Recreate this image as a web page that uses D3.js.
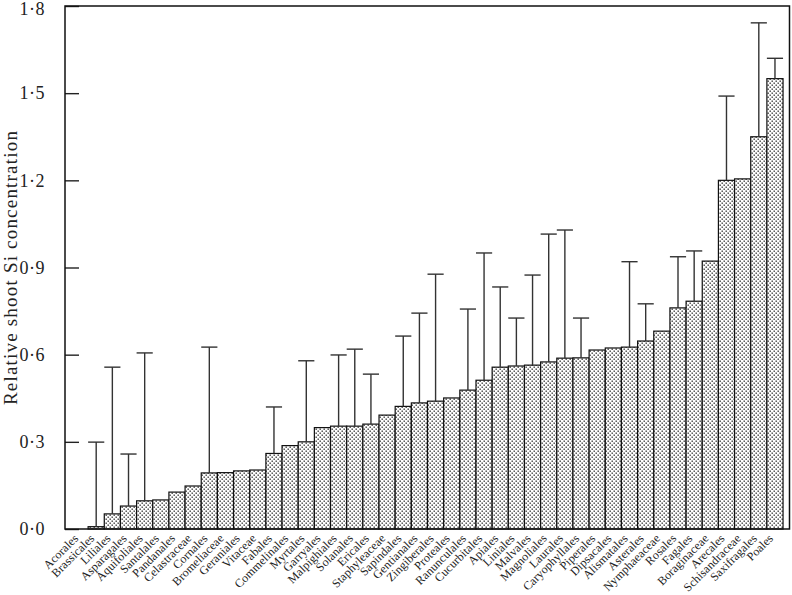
<!DOCTYPE html>
<html>
<head>
<meta charset="utf-8">
<script src="https://cdn.jsdelivr.net/npm/d3@7"></script>
<style>
  body { margin: 0; background: #fff; }
  svg { display: block; }
  text { font-family: "Liberation Serif", "DejaVu Serif", serif; fill: #222; }
</style>
</head>
<body>
<div id="chart"></div>
<script>
// orders, sorted by relative shoot Si
var categories = ["Acorales", "Brassicales", "Liliales", "Asparagales", "Aquifoliales", "Santalales",
  "Pandanales", "Celastraceae", "Cornales", "Bromeliaceae", "Geraniales", "Vitaceae", "Fabales",
  "Commelinales", "Myrtales", "Garryales", "Malpighiales", "Solanales", "Ericales", "Staphyleaceae",
  "Sapindales", "Gentianales", "Zingiberales", "Proteales", "Ranunculales", "Cucurbitales", "Apiales",
  "Liniales", "Malvales", "Magnoliales", "Laurales", "Caryophyllales", "Piperales", "Dipsacales",
  "Alismatales", "Asterales", "Nymphaeaceae", "Rosales", "Fagales", "Boraginaceae", "Arecales",
  "Schisandraceae", "Saxifragales", "Poales"];

var means = [0, 0.008, 0.052, 0.079, 0.097, 0.10,
  0.127, 0.148, 0.193, 0.194, 0.20, 0.203, 0.26,
  0.287, 0.30, 0.349, 0.354, 0.354, 0.361, 0.392,
  0.422, 0.434, 0.44, 0.451, 0.478, 0.512, 0.557,
  0.561, 0.564, 0.575, 0.588, 0.589, 0.616, 0.623,
  0.626, 0.647, 0.681, 0.761, 0.784, 0.922, 1.20,
  1.205, 1.35, 1.55];

// top of the error bar (null = no error bar)
var upper = [null, 0.299, 0.557, 0.258, 0.606, null,
  null, null, 0.626, null, null, null, 0.42,
  null, 0.579, null, 0.599, 0.619, 0.533, null,
  0.664, 0.743, 0.877, null, 0.757, 0.95, 0.833,
  0.726, 0.874, 1.015, 1.029, 0.726, null, null,
  0.92, 0.775, null, 0.937, 0.957, null, 1.49,
  null, 1.742, 1.62];

var yTicks = [0, 0.3, 0.6, 0.9, 1.2, 1.5, 1.8];

var data = categories.map(function(c, i) {
  return { name: c, mean: means[i], upper: upper[i] };
});

var svgWidth = 792;
var svgHeight = 595;

var margin = { top: 6, right: 2, bottom: 66, left: 65 };
var width = svgWidth - margin.left - margin.right;
var height = svgHeight - margin.top - margin.bottom;

var svg = d3.select("#chart")
  .append("svg")
  .attr("width", svgWidth)
  .attr("height", svgHeight);

// stipple fill for the bars
var pat = svg.append("defs").append("pattern")
  .attr("id", "dots")
  .attr("patternUnits", "userSpaceOnUse")
  .attr("width", 4)
  .attr("height", 4);
pat.append("rect").attr("width", 4).attr("height", 4).attr("fill", "#fff");
pat.append("rect").attr("x", 0.5).attr("y", 0.5).attr("width", 1.4).attr("height", 1.4).attr("fill", "#3a3a3a");
pat.append("rect").attr("x", 2.5).attr("y", 2.5).attr("width", 1.4).attr("height", 1.4).attr("fill", "#3a3a3a");

var chartGroup = svg.append("g")
  .attr("transform", `translate(${margin.left}, ${margin.top})`);

var xScale = d3.scaleBand()
  .domain(categories)
  .range([0, width])
  .paddingInner(0)
  .paddingOuter(0.43);

var yScale = d3.scaleLinear()
  .domain([0, 1.8])
  .range([height, 0]);

// bars
chartGroup.selectAll("rect.bar")
  .data(data.filter(d => d.mean > 0))
  .enter()
  .append("rect")
  .attr("class", "bar")
  .attr("x", d => xScale(d.name))
  .attr("y", d => yScale(d.mean))
  .attr("width", xScale.bandwidth())
  .attr("height", d => yScale(0) - yScale(d.mean))
  .attr("fill", "url(#dots)")
  .attr("stroke", "#111")
  .attr("stroke-width", 1.2);

// error bars
var errs = chartGroup.selectAll("g.err")
  .data(data.filter(d => d.upper !== null))
  .enter()
  .append("g")
  .attr("class", "err")
  .attr("stroke", "#333")
  .attr("stroke-width", 1.4);

errs.append("line")
  .attr("x1", d => xScale(d.name) + xScale.bandwidth() / 2)
  .attr("x2", d => xScale(d.name) + xScale.bandwidth() / 2)
  .attr("y1", d => yScale(d.mean))
  .attr("y2", d => yScale(d.upper));

errs.append("line")
  .attr("x1", d => xScale(d.name))
  .attr("x2", d => xScale(d.name) + xScale.bandwidth())
  .attr("y1", d => yScale(d.upper))
  .attr("y2", d => yScale(d.upper));

// y axis, ticks pointing inward
var leftAxis = d3.axisLeft(yScale)
  .tickValues(yTicks)
  .tickSize(-14)
  .tickPadding(20)
  .tickFormat(d => d3.format(".1f")(d).replace(".", "\u00B7"));

var yAxis = chartGroup.append("g").call(leftAxis);
yAxis.select(".domain").remove();
yAxis.selectAll(".tick line").attr("stroke", "#222").attr("stroke-width", 1.4);
yAxis.selectAll(".tick text")
  .attr("font-size", 18)
  .attr("letter-spacing", 0.5)
  .attr("fill", "#333");
// keep the top label inside the picture
yAxis.selectAll(".tick text").filter(d => d === 1.8).attr("y", 3);

// frame
chartGroup.append("rect")
  .attr("x", 0)
  .attr("y", 0)
  .attr("width", width - 0.5)
  .attr("height", height)
  .attr("fill", "none")
  .attr("stroke", "#111")
  .attr("stroke-width", 1.5);

// x labels, rotated
chartGroup.append("g")
  .selectAll("text")
  .data(categories)
  .enter()
  .append("text")
  .attr("transform", d => `translate(${xScale(d) + xScale.bandwidth() / 2 - 1}, ${height + 10}) rotate(-45)`)
  .attr("text-anchor", "end")
  .attr("font-size", 12)
  .attr("letter-spacing", 0.1)
  .attr("fill", "#555")
  .text(d => d);

// y label
svg.append("text")
  .attr("transform", `translate(17, ${margin.top + height / 2}) rotate(-90)`)
  .attr("text-anchor", "middle")
  .attr("font-size", 19)
  .attr("letter-spacing", 1.2)
  .attr("fill", "#333")
  .text("Relative shoot Si concentration");
</script>
</body>
</html>
